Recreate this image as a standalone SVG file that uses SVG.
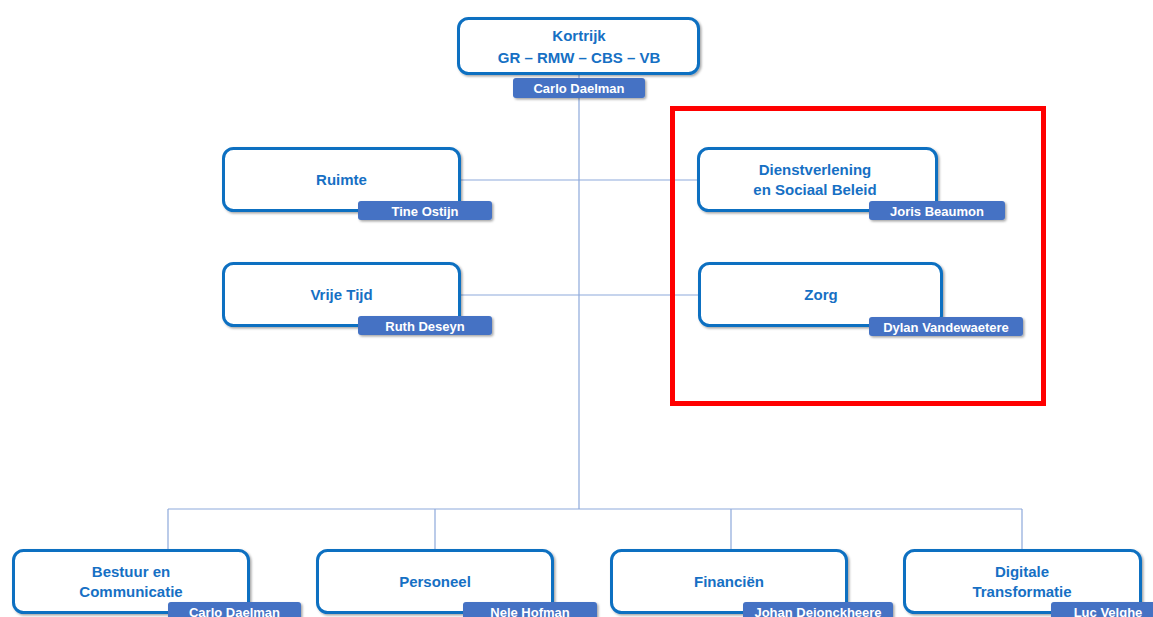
<svg xmlns="http://www.w3.org/2000/svg" width="1153" height="617" viewBox="0 0 1153 617">
<defs>
<filter id="sh" x="-10%" y="-20%" width="130%" height="160%">
<feDropShadow dx="1.5" dy="1.5" stdDeviation="1.2" flood-color="#000" flood-opacity="0.35"/>
</filter>
<style>
.box{fill:#fff;stroke:#0B6FC1;stroke-width:3;filter:url(#sh)}
.lbl{fill:#4472C4;filter:url(#sh)}
.t{font-family:"Liberation Sans",Arial,sans-serif;font-weight:bold;font-size:15px;fill:#1670C4;text-anchor:middle}
.lt{font-family:"Liberation Sans",Arial,sans-serif;font-weight:bold;font-size:13px;fill:#fff;text-anchor:middle}
.c{stroke:#8EA9DB;stroke-width:1.2;fill:none}
</style>
</defs>
<rect width="1153" height="617" fill="#fff"/>
<g id="connectors">
<path class="c" d="M579 73V509M460 180H698M460 295H699M168 509H1022M168 509V550M435 509V550M731 509V550M1022 509V550"/>
</g>
<g id="kortrijk">
<rect class="box" x="458.5" y="18.5" width="240" height="55" rx="10"/>
<text class="t" x="579" y="41">Kortrijk</text>
<text class="t" x="579" y="63">GR – RMW – CBS – VB</text>
<rect class="lbl" x="513" y="78" width="132" height="20" rx="3"/>
<text class="lt" x="579" y="93">Carlo Daelman</text>
</g>
<g id="ruimte">
<rect class="box" x="223.5" y="148.5" width="236" height="62" rx="10"/>
<text class="t" x="341.5" y="185">Ruimte</text>
<rect class="lbl" x="358" y="201" width="134" height="19" rx="3"/>
<text class="lt" x="425" y="215.5">Tine Ostijn</text>
</g>
<g id="vrije-tijd">
<rect class="box" x="223.5" y="263.5" width="236" height="62" rx="10"/>
<text class="t" x="341.5" y="300">Vrije Tijd</text>
<rect class="lbl" x="358" y="316" width="134" height="19" rx="3"/>
<text class="lt" x="425" y="330.5">Ruth Deseyn</text>
</g>
<g id="dienstverlening">
<rect class="box" x="698.5" y="148.5" width="238" height="62" rx="10"/>
<text class="t" x="815" y="175">Dienstverlening</text>
<text class="t" x="815" y="195">en Sociaal Beleid</text>
<rect class="lbl" x="869" y="201" width="136" height="19" rx="3"/>
<text class="lt" x="937" y="215.5">Joris Beaumon</text>
</g>
<g id="zorg">
<rect class="box" x="699.5" y="263.5" width="242" height="62" rx="10"/>
<text class="t" x="821" y="300">Zorg</text>
<rect class="lbl" x="869" y="317" width="154" height="19" rx="3"/>
<text class="lt" x="946" y="331.5">Dylan Vandewaetere</text>
</g>
<g id="bestuur">
<rect class="box" x="13.5" y="550.5" width="235" height="62" rx="10"/>
<text class="t" x="131" y="577">Bestuur en</text>
<text class="t" x="131" y="597">Communicatie</text>
<rect class="lbl" x="168" y="602" width="133" height="20" rx="3"/>
<text class="lt" x="234.5" y="617">Carlo Daelman</text>
</g>
<g id="personeel">
<rect class="box" x="317.5" y="550.5" width="235" height="62" rx="10"/>
<text class="t" x="435" y="587">Personeel</text>
<rect class="lbl" x="463" y="602" width="134" height="20" rx="3"/>
<text class="lt" x="530" y="617">Nele Hofman</text>
</g>
<g id="financien">
<rect class="box" x="611.5" y="550.5" width="235" height="62" rx="10"/>
<text class="t" x="729" y="587">Financiën</text>
<rect class="lbl" x="743" y="602" width="150" height="20" rx="3"/>
<text class="lt" x="818" y="617">Johan Dejonckheere</text>
</g>
<g id="digitale">
<rect class="box" x="904.5" y="550.5" width="236" height="62" rx="10"/>
<text class="t" x="1022" y="577">Digitale</text>
<text class="t" x="1022" y="597">Transformatie</text>
<rect class="lbl" x="1051" y="602" width="114" height="20" rx="3"/>
<text class="lt" x="1108" y="617">Luc Velghe</text>
</g>
<rect id="highlight" x="672.5" y="108.5" width="371" height="295" fill="none" stroke="#FF0000" stroke-width="5"/>
</svg>
